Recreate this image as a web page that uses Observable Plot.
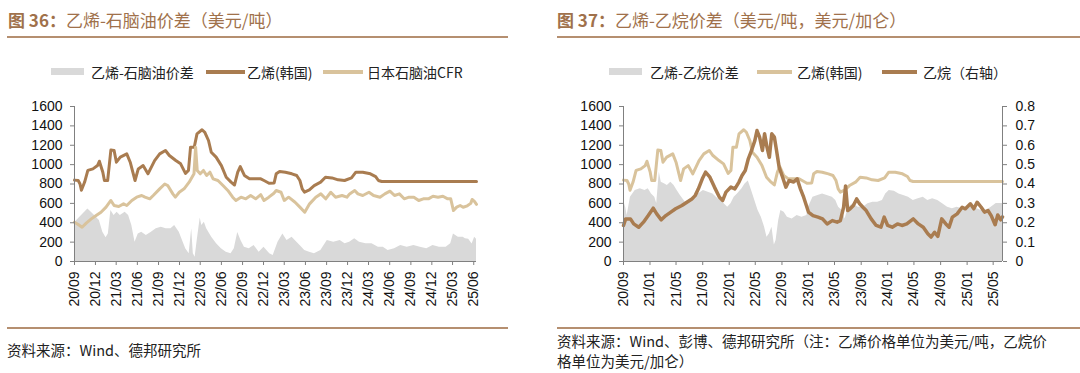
<!DOCTYPE html>
<html><head><meta charset="utf-8">
<script src="https://cdn.jsdelivr.net/npm/d3@7"></script>
<script src="https://cdn.jsdelivr.net/npm/@observablehq/plot@0.6"></script>
<style>
body{margin:0;background:#fff;}
#page{position:relative;width:1080px;height:373px;overflow:hidden;font-family:"Noto Sans CJK SC","Liberation Sans",sans-serif;}
.title{position:absolute;top:10px;font-size:17px;line-height:20px;color:#a0714b;white-space:nowrap;}
.title b{font-weight:bold}
.rule{position:absolute;height:2px;background:#b58f70;}
.lg{position:absolute;font-size:14px;line-height:16px;color:#222;white-space:nowrap;top:64px;}
.sw{position:absolute;}
.src{position:absolute;font-size:14.5px;line-height:18px;color:#222;white-space:nowrap;}
.plot{position:absolute;top:96px;}
</style>
</head>
<body>
<div id="page">
  <div class="title" style="left:8px"><b>图 36：</b>乙烯-石脑油价差（美元/吨）</div>
  <div class="rule" style="left:7px;width:501px;top:36px"></div>
  <div class="title" style="left:557px"><b>图 37：</b>乙烯-乙烷价差（美元/吨，美元/加仑）</div>
  <div class="rule" style="left:557px;width:523px;top:36px"></div>

  <div class="sw" style="left:51px;top:68px;width:33px;height:7px;background:#d9d9d9"></div>
  <div class="lg" style="left:91px">乙烯-石脑油价差</div>
  <div class="sw" style="left:206px;top:70px;width:39px;height:4px;background:#a97c50"></div>
  <div class="lg" style="left:247px">乙烯(韩国)</div>
  <div class="sw" style="left:323px;top:70px;width:40px;height:4px;background:#d9c39c"></div>
  <div class="lg" style="left:367px">日本石脑油CFR</div>

  <div class="sw" style="left:609px;top:68px;width:33px;height:7px;background:#d9d9d9"></div>
  <div class="lg" style="left:650px">乙烯-乙烷价差</div>
  <div class="sw" style="left:757px;top:70px;width:35px;height:4px;background:#d9c39c"></div>
  <div class="lg" style="left:797px">乙烯(韩国)</div>
  <div class="sw" style="left:882px;top:70px;width:35px;height:4px;background:#a97c50"></div>
  <div class="lg" style="left:923px">乙烷（右轴）</div>

  <div class="plot" id="left" style="left:0px"></div>
  <div class="plot" id="right" style="left:540px"></div>

  <div class="rule" style="left:7px;width:501px;top:327px"></div>
  <div class="src" style="left:7px;top:341px">资料来源：Wind、德邦研究所</div>
  <div class="rule" style="left:557px;width:523px;top:327px"></div>
  <div class="src" style="left:557px;top:332px">资料来源：Wind、彭博、德邦研究所（注：乙烯价格单位为美元/吨，乙烷价</div>
  <div class="src" style="left:557px;top:352px">格单位为美元/加仑）</div>
</div>
<script>
// ---------- tick labels ----------
const leftXLabels = ["20/09","20/12","21/03","21/06","21/09","21/12","22/03","22/06","22/09","22/12","23/03","23/06","23/09","23/12","24/03","24/06","24/09","24/12","25/03","25/06"];
const rightXLabels = ["20/09","21/01","21/05","21/09","22/01","22/05","22/09","23/01","23/05","23/09","24/01","24/05","24/09","25/01","25/05"];
const priceTicks = [0,200,400,600,800,1000,1200,1400,1600];
const ethaneTicks = [0,0.1,0.2,0.3,0.4,0.5,0.6,0.7,0.8];
const xStart = "2020-09-01";
const xEnd = "2025-06-13";

// ---------- series (USD/t unless noted) ----------
const koreaEthylene = [
["2020-09-01",840],["2020-09-17",836],["2020-09-25",800],["2020-10-01",735],["2020-10-15",820],["2020-10-29",940],
["2020-11-20",956],["2020-12-10",990],["2020-12-18",1035],["2021-01-02",922],["2021-01-09",836],["2021-01-23",836],
["2021-02-06",1150],["2021-02-20",1146],["2021-03-02",1025],["2021-03-19",1077],["2021-04-16",1111],["2021-05-01",1025],
["2021-05-22",836],["2021-06-05",956],["2021-06-26",990],["2021-07-17",905],["2021-08-15",1042],["2021-09-06",1111],
["2021-10-01",1146],["2021-10-18",1094],["2021-11-15",1042],["2021-12-06",1008],["2021-12-27",910],["2022-01-09",940],
["2022-01-18",1180],["2022-02-03",1180],["2022-02-15",1317],["2022-03-09",1360],["2022-03-21",1334],["2022-04-06",1249],
["2022-04-18",1128],["2022-05-09",1077],["2022-06-01",990],["2022-06-22",870],["2022-07-13",819],["2022-07-28",790],
["2022-08-11",922],["2022-08-22",980],["2022-09-09",888],["2022-10-01",853],["2022-11-19",853],["2022-12-03",836],
["2022-12-25",808],["2023-01-16",810],["2023-01-25",905],["2023-02-09",929],["2023-03-06",922],["2023-04-03",905],
["2023-04-24",888],["2023-05-08",836],["2023-05-18",750],["2023-05-28",716],["2023-06-18",740],["2023-07-09",784],
["2023-08-06",819],["2023-08-27",870],["2023-09-24",863],["2023-10-21",843],["2023-11-18",836],["2023-12-18",863],
["2024-01-06",922],["2024-02-05",922],["2024-03-09",905],["2024-04-01",877],["2024-04-13",836],["2024-04-27",826],
["2025-06-13",826]];

const naphthaCFR = [
["2020-09-01",406],["2020-09-17",382],["2020-10-04",354],["2020-10-22",396],["2020-11-13",440],["2020-12-04",475],
["2020-12-25",509],["2021-01-16",561],["2021-02-06",630],["2021-02-20",578],["2021-03-12",568],["2021-04-02",595],
["2021-04-16",578],["2021-05-08",630],["2021-05-29",664],["2021-06-20",681],["2021-07-04",664],["2021-07-25",647],
["2021-08-09",681],["2021-09-06",750],["2021-09-28",800],["2021-10-11",784],["2021-11-02",698],["2021-11-13",664],
["2021-11-30",715],["2021-12-21",750],["2022-01-12",819],["2022-02-02",905],["2022-02-09",1180],["2022-02-16",940],
["2022-03-01",905],["2022-03-15",940],["2022-03-29",888],["2022-04-12",922],["2022-04-26",853],["2022-05-17",836],
["2022-06-08",784],["2022-06-29",733],["2022-07-20",664],["2022-08-03",630],["2022-08-25",664],["2022-09-15",647],
["2022-10-06",681],["2022-10-28",647],["2022-11-19",690],["2022-12-03",630],["2022-12-24",664],["2023-01-15",705],
["2023-01-25",733],["2023-02-15",715],["2023-03-01",630],["2023-03-20",664],["2023-04-17",612],["2023-05-08",561],
["2023-05-29",509],["2023-06-19",595],["2023-07-16",664],["2023-08-07",698],["2023-08-28",647],["2023-09-19",715],
["2023-10-10",664],["2023-11-07",681],["2023-11-28",664],["2023-12-10",698],["2024-01-01",733],["2024-01-15",698],
["2024-02-05",681],["2024-03-03",715],["2024-03-23",681],["2024-04-20",664],["2024-05-11",698],["2024-06-02",726],
["2024-06-22",681],["2024-07-13",698],["2024-08-03",647],["2024-08-24",664],["2024-09-14",664],["2024-10-05",630],
["2024-10-25",647],["2024-11-16",647],["2024-12-06",674],["2024-12-28",664],["2025-01-18",674],["2025-02-08",647],
["2025-02-21",647],["2025-03-05",526],["2025-03-19",561],["2025-04-03",578],["2025-04-16",560],["2025-05-04",575],
["2025-05-19",600],["2025-05-25",640],["2025-06-04",620],["2025-06-13",590]];

const spreadNaphtha = [
["2020-09-01",400],["2020-09-17",440],["2020-10-08",490],["2020-10-29",543],["2020-11-13",509],["2020-11-27",475],
["2020-12-18",423],["2021-01-02",303],["2021-01-16",245],["2021-01-26",285],["2021-02-06",526],["2021-02-20",475],
["2021-03-05",509],["2021-03-19",475],["2021-04-09",509],["2021-04-24",475],["2021-05-08",372],["2021-05-22",200],
["2021-06-05",285],["2021-06-20",303],["2021-07-10",268],["2021-08-01",303],["2021-08-22",337],["2021-09-13",354],
["2021-10-04",337],["2021-10-25",337],["2021-11-10",372],["2021-11-30",303],["2021-12-14",217],["2021-12-28",131],
["2022-01-12",79],["2022-01-23",337],["2022-01-30",79],["2022-02-07",45],["2022-02-16",217],["2022-03-01",450],
["2022-03-08",372],["2022-03-19",406],["2022-03-29",337],["2022-04-20",251],["2022-05-11",182],["2022-06-01",131],
["2022-06-22",96],["2022-07-13",79],["2022-07-27",131],["2022-08-11",300],["2022-08-25",217],["2022-09-09",148],
["2022-09-30",131],["2022-10-21",165],["2022-11-12",96],["2022-12-03",148],["2022-12-28",79],["2023-01-12",62],
["2023-02-02",200],["2023-02-23",285],["2023-03-13",217],["2023-04-04",251],["2023-04-25",200],["2023-05-16",148],
["2023-05-29",113],["2023-06-19",96],["2023-07-10",79],["2023-08-07",113],["2023-09-04",217],["2023-10-02",200],
["2023-10-30",217],["2023-11-20",182],["2023-12-10",200],["2024-01-01",234],["2024-01-22",200],["2024-02-19",182],
["2024-03-16",182],["2024-04-13",148],["2024-05-04",148],["2024-05-25",113],["2024-06-22",131],["2024-07-19",165],
["2024-08-16",148],["2024-09-14",165],["2024-10-12",148],["2024-11-09",131],["2024-12-06",165],["2025-01-03",148],
["2025-02-01",148],["2025-02-21",182],["2025-03-05",285],["2025-03-26",251],["2025-04-16",251],["2025-04-26",234],
["2025-05-10",230],["2025-05-25",180],["2025-06-05",250],["2025-06-13",230]];

const spreadEthane = [
["2020-09-01",630],["2020-09-11",561],["2020-09-18",475],["2020-10-03",664],["2020-10-25",733],["2020-11-17",750],
["2020-12-09",733],["2020-12-24",750],["2021-01-08",698],["2021-01-23",664],["2021-02-01",600],["2021-02-13",922],
["2021-02-22",819],["2021-03-08",802],["2021-03-22",784],["2021-04-07",819],["2021-04-22",784],["2021-05-06",733],
["2021-05-21",681],["2021-06-13",612],["2021-06-28",630],["2021-07-20",664],["2021-08-12",698],["2021-09-04",733],
["2021-09-26",715],["2021-10-18",698],["2021-11-10",647],["2021-12-02",612],["2021-12-25",561],["2022-01-09",595],
["2022-01-24",664],["2022-02-08",698],["2022-03-01",750],["2022-03-15",800],["2022-03-30",830],["2022-04-14",733],
["2022-04-29",630],["2022-05-14",526],["2022-05-29",457],["2022-06-13",354],["2022-06-24",251],["2022-07-05",285],
["2022-07-17",354],["2022-07-28",170],["2022-08-05",217],["2022-08-17",423],["2022-08-27",526],["2022-09-11",509],
["2022-09-26",457],["2022-10-18",440],["2022-11-10",475],["2022-12-02",457],["2022-12-25",475],["2023-01-01",561],
["2023-01-22",664],["2023-02-14",681],["2023-03-07",698],["2023-03-28",681],["2023-04-21",664],["2023-05-07",630],
["2023-05-20",561],["2023-06-05",526],["2023-06-19",440],["2023-07-04",561],["2023-07-26",595],["2023-08-18",561],
["2023-09-10",561],["2023-10-02",595],["2023-10-25",612],["2023-11-16",612],["2023-12-08",630],["2023-12-23",698],
["2024-01-08",733],["2024-02-01",726],["2024-02-22",698],["2024-03-14",681],["2024-04-06",664],["2024-04-28",630],
["2024-05-21",647],["2024-06-13",664],["2024-07-04",630],["2024-07-26",647],["2024-08-19",630],["2024-09-10",595],
["2024-10-03",561],["2024-10-25",544],["2024-11-16",561],["2024-12-09",544],["2025-01-01",561],["2025-01-23",561],
["2025-02-16",544],["2025-03-07",526],["2025-03-30",526],["2025-04-22",561],["2025-05-15",600],["2025-06-13",600]];

// USD/gal, right axis
const ethaneUSDgal = [
["2020-09-01",0.186],["2020-09-11",0.22],["2020-10-03",0.22],["2020-10-18",0.194],["2020-11-10",0.177],["2020-12-02",0.203],
["2020-12-24",0.237],["2021-01-16",0.275],["2021-02-01",0.246],["2021-02-22",0.215],["2021-03-15",0.237],["2021-04-07",0.255],
["2021-04-29",0.272],["2021-05-28",0.289],["2021-06-20",0.306],["2021-07-13",0.323],["2021-07-28",0.34],["2021-08-12",0.375],
["2021-08-30",0.427],["2021-09-14",0.461],["2021-10-04",0.435],["2021-10-25",0.384],["2021-11-17",0.332],["2021-12-02",0.315],
["2021-12-17",0.358],["2022-01-09",0.384],["2022-01-27",0.375],["2022-02-15",0.41],["2022-03-01",0.444],["2022-03-16",0.47],
["2022-03-30",0.53],["2022-04-14",0.573],["2022-04-29",0.624],["2022-05-09",0.676],["2022-05-21",0.642],["2022-06-03",0.573],
["2022-06-13",0.659],["2022-06-24",0.59],["2022-07-05",0.538],["2022-07-16",0.659],["2022-07-28",0.642],["2022-08-07",0.573],
["2022-08-19",0.487],["2022-09-04",0.435],["2022-09-19",0.384],["2022-10-04",0.418],["2022-10-25",0.41],["2022-11-10",0.427],
["2022-11-25",0.375],["2022-12-10",0.332],["2022-12-25",0.28],["2023-01-01",0.255],["2023-01-22",0.237],["2023-02-14",0.229],
["2023-03-07",0.22],["2023-03-28",0.194],["2023-04-21",0.211],["2023-05-13",0.203],["2023-05-28",0.211],["2023-06-12",0.28],
["2023-06-21",0.39],["2023-07-01",0.263],["2023-07-12",0.272],["2023-07-27",0.289],["2023-08-11",0.323],["2023-08-25",0.298],
["2023-09-09",0.28],["2023-09-24",0.263],["2023-10-17",0.22],["2023-11-09",0.186],["2023-12-01",0.177],["2023-12-16",0.229],
["2024-01-01",0.186],["2024-01-22",0.177],["2024-02-15",0.194],["2024-03-07",0.186],["2024-03-29",0.194],["2024-04-28",0.22],
["2024-05-21",0.194],["2024-06-13",0.177],["2024-07-04",0.143],["2024-07-19",0.126],["2024-08-04",0.151],["2024-08-19",0.13],
["2024-09-06",0.22],["2024-09-25",0.194],["2024-10-10",0.177],["2024-10-25",0.229],["2024-11-16",0.246],["2024-12-09",0.28],
["2024-12-24",0.272],["2025-01-16",0.298],["2025-02-01",0.272],["2025-02-16",0.306],["2025-03-07",0.28],["2025-03-22",0.255],
["2025-04-07",0.263],["2025-04-22",0.237],["2025-05-10",0.19],["2025-05-22",0.24],["2025-06-05",0.215],["2025-06-13",0.23]];

// ---------- build ----------
const parse = d3.utcParse("%Y-%m-%d");
const parseTick = d3.utcParse("%y/%m");
const rows = arr => arr.map(([d, v]) => ({date: parse(d), value: v}));
const ethaneFactor = 1600 / 0.8; // right axis 0–0.8 maps onto left 0–1600

const BROWN = "#a97c50", BEIGE = "#d9c39c", GREY = "#d9d9d9", AXIS = "#808080";
const baseStyle = {fontFamily: "'Liberation Sans', Arial, sans-serif", fontSize: "14px", color: "#111", background: "transparent", overflow: "visible"};

function xAxis(labels) {
  const dates = labels.map(parseTick);
  const lookup = new Map(dates.map((d, i) => [+d, labels[i]]));
  return Plot.axisX({ticks: dates, tickFormat: d => lookup.get(+d), tickRotate: -90, tickSize: 4, tickPadding: 6, label: null, stroke: AXIS});
}

const leftPlot = Plot.plot({
  width: 540, height: 225,
  marginLeft: 74, marginRight: 64, marginTop: 10, marginBottom: 60,
  style: baseStyle,
  x: {type: "utc", domain: [parse(xStart), parse(xEnd)]},
  y: {domain: [0, 1600]},
  marks: [
    Plot.areaY(rows(spreadNaphtha), {x: "date", y: "value", fill: GREY}),
    Plot.line(rows(koreaEthylene), {x: "date", y: "value", stroke: BROWN, strokeWidth: 3}),
    Plot.line(rows(naphthaCFR), {x: "date", y: "value", stroke: BEIGE, strokeWidth: 3}),
    Plot.ruleY([0], {stroke: AXIS}),
    Plot.ruleX([parse(xStart)], {stroke: AXIS}),
    Plot.axisY({ticks: priceTicks, tickSize: 4, tickPadding: 8, tickFormat: d => String(d), label: null, stroke: AXIS}),
    xAxis(leftXLabels)
  ]
});
document.getElementById("left").appendChild(leftPlot);

const rightPlot = Plot.plot({
  width: 540, height: 225,
  marginLeft: 83, marginRight: 78, marginTop: 10, marginBottom: 60,
  style: baseStyle,
  x: {type: "utc", domain: [parse(xStart), parse(xEnd)]},
  y: {domain: [0, 1600]},
  marks: [
    Plot.areaY(rows(spreadEthane), {x: "date", y: "value", fill: GREY}),
    Plot.line(rows(koreaEthylene), {x: "date", y: "value", stroke: BEIGE, strokeWidth: 3}),
    Plot.line(rows(ethaneUSDgal), {x: "date", y: d => d.value * ethaneFactor, stroke: BROWN, strokeWidth: 3.5}),
    Plot.ruleY([0], {stroke: AXIS}),
    Plot.ruleX([parse(xStart)], {stroke: AXIS}),
    Plot.ruleX([parse(xEnd)], {stroke: AXIS}),
    Plot.axisY({ticks: priceTicks, tickSize: 4, tickPadding: 8, tickFormat: d => String(d), label: null, stroke: AXIS}),
    Plot.axisY({anchor: "right", ticks: ethaneTicks.map(v => v * ethaneFactor), tickSize: 4, tickPadding: 9,
      tickFormat: d => String(ethaneTicks[Math.round(d / ethaneFactor * 10)]), label: null, stroke: AXIS}),
    xAxis(rightXLabels)
  ]
});
document.getElementById("right").appendChild(rightPlot);
</script>
</body></html>
